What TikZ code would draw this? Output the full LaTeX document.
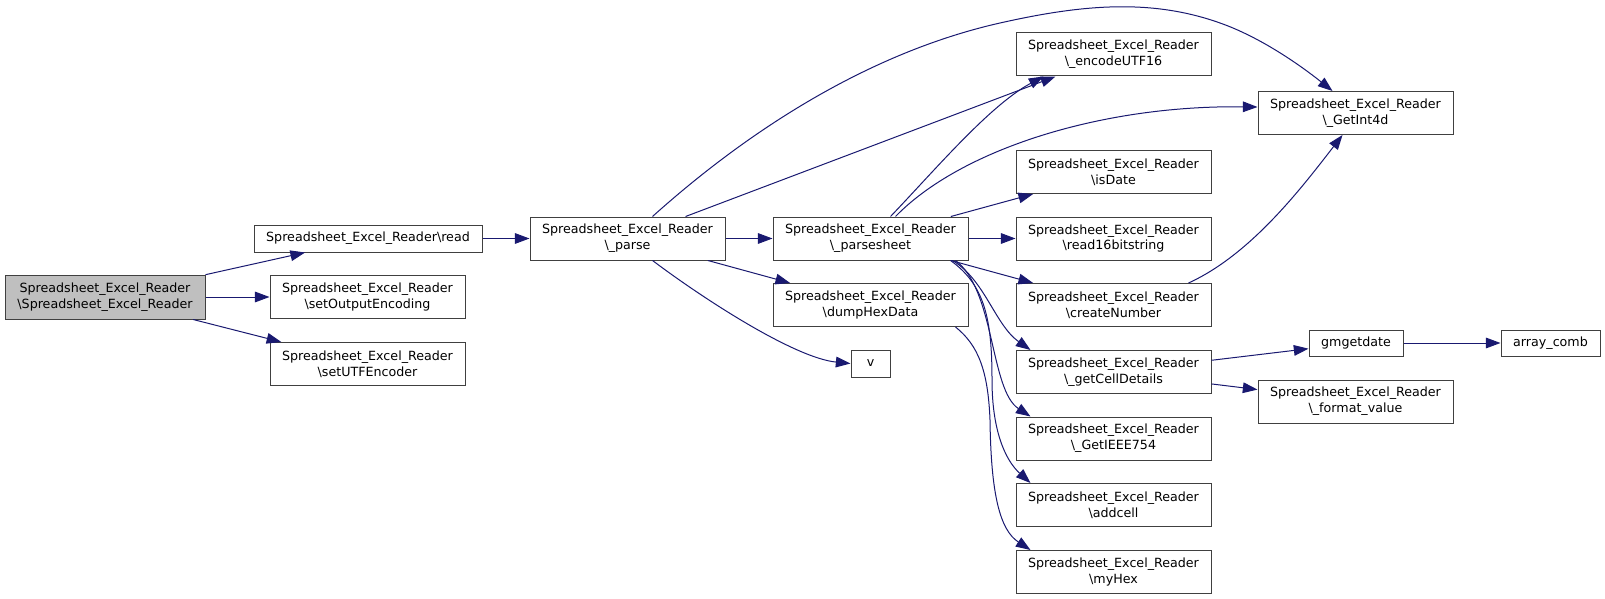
\documentclass[tikz,border=0pt]{standalone}
\usepackage{fontspec}
\setmainfont{DejaVu Sans}
\usetikzlibrary{arrows.meta,calc}
\definecolor{edgeblue}{HTML}{191970}
\definecolor{boxline}{HTML}{404040}
\definecolor{rootfill}{HTML}{BFBFBF}
\newcommand{\sername}{Spreadsheet\_Excel\_Reader}
\begin{document}
\begin{tikzpicture}[x=0.75pt,y=-0.75pt,->,
    >={Triangle[length=11pt,width=8pt]},
    fn/.style={draw=boxline, fill=white, line width=0.75pt, inner sep=0pt,
      align=center, minimum width=146.25pt, minimum height=32.25pt,
      font=\fontsize{9.5}{11.8}\selectfont},
    call/.style={draw=edgeblue, line width=0.75pt}]
        \useasboundingbox (0,0) rectangle (1605,599);
        \node[fn, fill=rootfill, minimum width=150pt, minimum height=33pt] (0) at (105,297) {\sername\\\textbackslash\sername};
        \node[fn, minimum width=171pt, minimum height=20.25pt] (1) at (368,238.5) {\sername\textbackslash read};
        \node[fn] (2) at (367.5,297) {\sername\\\textbackslash setOutputEncoding};
        \node[fn] (3) at (367.5,364) {\sername\\\textbackslash setUTFEncoder};
        \node[fn] (4) at (627.5,238.5) {\sername\\\textbackslash\_parse};
        \node[fn] (5) at (870.5,238.5) {\sername\\\textbackslash\_parsesheet};
        \node[fn] (6) at (870.5,305) {\sername\\\textbackslash dumpHexData};
        \node[fn, minimum width=29.25pt, minimum height=20.25pt] (7) at (870.5,363.5) {v};
        \node[fn] (8) at (1113.5,54.5) {\sername\\\textbackslash\_encodeUTF16};
        \node[fn] (9) at (1355.5,113) {\sername\\\textbackslash\_GetInt4d};
        \node[fn] (10) at (1113.5,172) {\sername\\\textbackslash isDate};
        \node[fn] (11) at (1113.5,238.5) {\sername\\\textbackslash read16bitstring};
        \node[fn] (12) at (1113.5,305) {\sername\\\textbackslash createNumber};
        \node[fn] (13) at (1113.5,372) {\sername\\\textbackslash\_getCellDetails};
        \node[fn] (14) at (1113.5,438.5) {\sername\\\textbackslash\_GetIEEE754};
        \node[fn] (15) at (1113.5,505) {\sername\\\textbackslash addcell};
        \node[fn] (16) at (1113.5,572) {\sername\\\textbackslash myHex};
        \node[fn, minimum width=70.5pt, minimum height=19.5pt] (17) at (1356,343) {gmgetdate};
        \node[fn] (18) at (1355.5,401.5) {\sername\\\textbackslash\_format\_value};
        \node[fn, minimum width=74.25pt, minimum height=19.5pt] (19) at (1550.5,343) {array\_comb};
        \draw[call] (0) -- (1);
        \draw[call] (0) -- (2);
        \draw[call] (0) -- (3);
        \draw[call] (1) -- (4);
        \draw[call] (4) -- (5);
        \draw[call] (4) -- (6);
        \draw[call] (4) -- (8);
        \draw[call] ($(4.south)+(25,0)$) .. controls (705,300) and (795,358) .. (7.west);
        \draw[call] ($(4.north)+(25,0)$) .. controls (760,120) and (880,50) .. (1000,23)
          .. controls (1080,5) and (1150,-2) .. (1220,23)
          .. controls (1260,37) and (1300,65) .. ($(9.north)-(23,0)$);
        \draw[call] (5) -- (10);
        \draw[call] (5) -- (11);
        \draw[call] (5) -- (12);
        \draw[call] ($(5.north)+(20,0)$) .. controls (935,170) and (990,105) .. ($(8.south)-(70,0)$);
        \draw[call] ($(5.north)+(25,0)$) .. controls (960,150) and (1100,105) .. ($(9.west)-(0,6)$);
        \draw[call] ($(5.south)+(82,0)$) .. controls (985,280) and (995,325) .. ($(13.north west)+(15,0)$);
        \draw[call] ($(5.south)+(85,0)$) .. controls (995,290) and (990,390) .. ($(14.north west)+(15,0)$);
        \draw[call] ($(5.south)+(80,0)$) .. controls (985,285) and (992,320) .. (992,380)
          .. controls (992,430) and (1005,460) .. ($(15.north west)+(15,0)$);
        \draw[call] ($(6.south)+(85,0)$) .. controls (978,345) and (988,370) .. (990,420)
          .. controls (991,495) and (1000,530) .. ($(16.north west)+(15,0)$);
        \draw[call] ($(12.north)+(75,0)$) .. controls (1250,255) and (1300,190) .. ($(9.south)-(13,0)$);
        \draw[call] (13) -- (17);
        \draw[call] (13) -- (18);
        \draw[call] (17) -- (19);
      \end{tikzpicture}
\end{document}
